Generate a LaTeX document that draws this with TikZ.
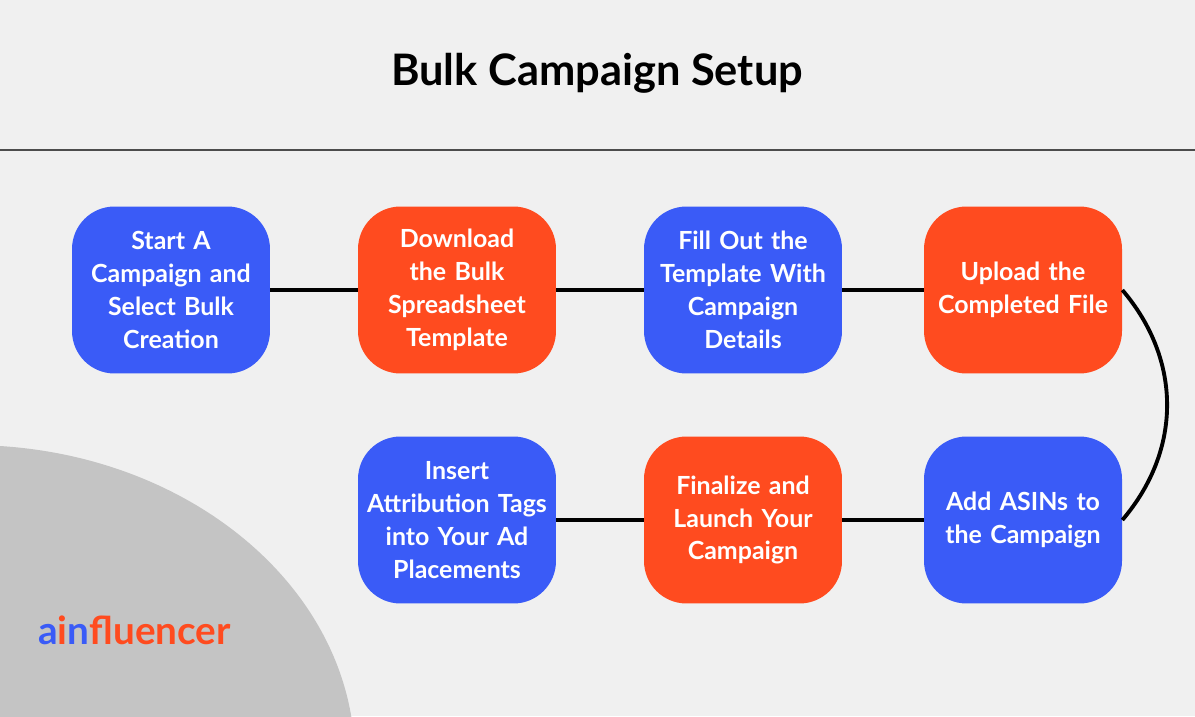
\documentclass[tikz,border=0pt]{standalone}
\usepackage{fontspec}
\setmainfont{Lato}
\definecolor{stepblue}{HTML}{3A5BF7}
\definecolor{steporange}{HTML}{FF4B1F}
\definecolor{bggray}{HTML}{F0F0F0}
\tikzset{
  stepbox/.style={rounded corners=0.85cm,minimum width=3.96cm,minimum height=3.34cm,
    inner sep=0pt,text width=3.96cm,align=center,text=white,font=\fontsize{14.2}{18.7}\selectfont\bfseries},
  blue step/.style={stepbox,fill=stepblue},
  orange step/.style={stepbox,fill=steporange},
  link/.style={line width=2.2pt,black}
}
\begin{document}
\begin{tikzpicture}[x=0.02cm,y=-0.02cm]
\fill[bggray] (0,0) rectangle (1195,716);
\useasboundingbox (0,0) rectangle (1195,716);
\begin{scope}
\clip (0,0) rectangle (1195,716);
\fill[black!23] (-30,760) ellipse [x radius=7.7cm,y radius=6.3cm];
\end{scope}
\node[font=\fontsize{24.7}{28}\selectfont\bfseries] (title) at (597,73) {Bulk Campaign Setup};
\draw[black!70,line width=0.8pt] (0,150) -- (1195,150);

\node[blue step] (start) at (171,290) {Start A\\Campaign and\\Select Bulk\\Creation};
\node[orange step] (download) at (457,290) {Download\\the Bulk\\Spreadsheet\\Template};
\node[blue step] (fill) at (743,290) {Fill Out the\\Template With\\Campaign\\Details};
\node[orange step] (upload) at (1023,290) {Upload the\\Completed File};
\node[blue step] (asins) at (1023,520) {Add ASINs to\\the Campaign};
\node[orange step] (launch) at (743,520) {Finalize and\\Launch Your\\Campaign};
\node[blue step] (insert) at (457,520) {Insert\\Attribution Tags\\into Your Ad\\Placements};

\draw[link] (start) -- (download);
\draw[link] (download) -- (fill);
\draw[link] (fill) -- (upload);
\draw[link] (upload.east) .. controls (1182,360) and (1182,450) .. (asins.east);
\draw[link] (asins) -- (launch);
\draw[link] (launch) -- (insert);

\node[anchor=west,font=\fontsize{22}{26}\selectfont\bfseries,inner sep=0pt] (logo) at (38,630)
  {\textcolor{stepblue}{a}\textcolor{steporange}{i}\textcolor{stepblue}{n}\textcolor{steporange}{fluencer}};
\end{tikzpicture}
\end{document}
